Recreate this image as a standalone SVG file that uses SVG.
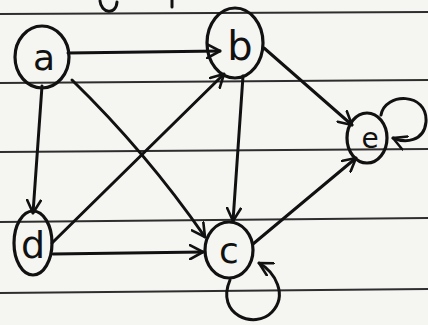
<svg xmlns="http://www.w3.org/2000/svg" width="428" height="325" viewBox="0 0 428 325">
<style>
.paper{stroke:#2e2e2e;stroke-width:2.2;fill:none}
.ink{stroke:#111111;stroke-width:3;fill:none;stroke-linecap:round;stroke-linejoin:round}
.node{stroke:#111111;stroke-width:3.2;fill:none}
.lbl{font-family:"DejaVu Sans","Liberation Sans",sans-serif;fill:#111111;text-anchor:middle}
</style>
<defs>
<marker id="arr" viewBox="0 0 16 16" refX="14" refY="8" markerWidth="16" markerHeight="16" markerUnits="userSpaceOnUse" orient="auto">
<path d="M1,1 L14,8 L1,15" fill="none" stroke="#111111" stroke-width="2.6" stroke-linecap="round" stroke-linejoin="round"/>
</marker>
</defs>
<rect width="428" height="325" fill="#f5f5f2"/>
<g id="paper">
<line class="paper" x1="0" y1="14" x2="428" y2="12"/>
<line class="paper" x1="0" y1="83" x2="428" y2="80"/>
<line class="paper" x1="0" y1="152" x2="428" y2="149"/>
<line class="paper" x1="0" y1="222" x2="428" y2="218"/>
<line class="paper" x1="0" y1="293" x2="428" y2="289"/>
<path class="ink" d="M100,1 C101,13 116,16 117,2"/>
<path class="ink" d="M172,0 L172,7"/>
</g>
<g id="edges">
<path class="ink" marker-end="url(#arr)" d="M68,53 L220,51"/>
<path class="ink" marker-end="url(#arr)" d="M42,86 L33,213"/>
<path class="ink" marker-end="url(#arr)" d="M72,80 Q146,152 205,237"/>
<path class="ink" marker-end="url(#arr)" d="M52,243 L224,74"/>
<path class="ink" marker-end="url(#arr)" d="M53,254 L203,252"/>
<path class="ink" marker-end="url(#arr)" d="M243,76 L233,221"/>
<path class="ink" marker-end="url(#arr)" d="M264,48 L352,125"/>
<path class="ink" marker-end="url(#arr)" d="M253,244 L356,158"/>
<path class="ink" marker-end="url(#arr)" d="M381,115 C385,92 428,92 426,122 C424,142 405,143 393,138"/>
<path class="ink" marker-end="url(#arr)" d="M230,280 C215,315 255,330 272,312 C288,295 275,272 259,263"/>
</g>
<g id="node-a">
<ellipse class="node" cx="42" cy="57" rx="27" ry="31"/>
<text class="lbl" x="44" y="70" font-size="36">a</text>
</g>
<g id="node-b">
<ellipse class="node" cx="235" cy="43" rx="28" ry="35"/>
<text class="lbl" x="240" y="60" font-size="40">b</text>
</g>
<g id="node-e">
<ellipse class="node" cx="367" cy="138" rx="20" ry="25"/>
<text class="lbl" x="370" y="148" font-size="28">e</text>
</g>
<g id="node-d">
<ellipse class="node" cx="33" cy="243" rx="19" ry="32"/>
<text class="lbl" x="33" y="258" font-size="38">d</text>
</g>
<g id="node-c">
<ellipse class="node" cx="229" cy="250" rx="24" ry="28"/>
<text class="lbl" x="229" y="263" font-size="36">c</text>
</g>
</svg>
